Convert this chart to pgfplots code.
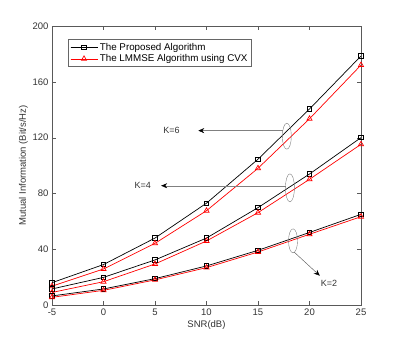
\documentclass[border=0pt]{standalone}
\usepackage{pgfplots}
\pgfplotsset{compat=1.18}
\usepackage{fontspec}
\setmainfont{Liberation Sans}
\usetikzlibrary{calc,arrows.meta}
\begin{document}
\begin{tikzpicture}
\begin{axis}[
	scale only axis,
	width=309pt, height=279pt,
	xmin=-5, xmax=25, ymin=0, ymax=200,
	xtick={-5,0,...,25}, ytick={0,40,...,200},
	tick align=inside,
	axis line style={gray!70!black},
	tick style={gray!70!black},
	ticklabel style={font=\fontsize{9.5}{11}\selectfont, text=black!80},
	label style={font=\fontsize{9.5}{11}\selectfont, text=black!80},
	/pgf/number format/assume math mode=true,
	xlabel={SNR(dB)}, ylabel={Mutual Information (Bit/s/Hz)},
	xlabel style={yshift=2pt},
	ylabel style={yshift=-2pt},
	legend style={at={(axis cs:-3.4,190.5)}, anchor=north west, font=\fontsize{9.8}{11}\selectfont,
		draw=black!60, inner sep=1.5pt, row sep=-1pt, cells={anchor=west}},
	legend image code/.code={\draw[#1] (0pt,0pt) -- (27pt,0pt); \draw[#1,mark repeat=2,mark phase=2] plot coordinates {(0pt,0pt) (13.5pt,0pt) (27pt,0pt)};},
]
% K=6
\addplot[black, line width=0.7pt, mark=square, mark size=2.2pt] coordinates {
	(-5,16) (0,29) (5,48) (10,73) (15,104.5) (20,140.5) (25,178.5)};
\addplot[red, line width=0.7pt, mark=triangle, mark size=3pt] coordinates {
	(-5,13.5) (0,25.8) (5,44.2) (10,67.6) (15,98) (20,133.5) (25,172)};
\legend{The Proposed Algorithm, The LMMSE Algorithm using CVX}
% K=4
\addplot[black, line width=0.7pt, mark=square, mark size=2.2pt, forget plot] coordinates {
	(-5,11.5) (0,19.8) (5,32.3) (10,48) (15,69.8) (20,93.9) (25,120)};
\addplot[red, line width=0.7pt, mark=triangle, mark size=3pt, forget plot] coordinates {
	(-5,9) (0,16.7) (5,29.4) (10,45.9) (15,66.2) (20,90.1) (25,115.2)};
% K=2
\addplot[black, line width=0.7pt, mark=square, mark size=2.2pt, forget plot] coordinates {
	(-5,6.5) (0,11.5) (5,18.9) (10,28) (15,39.2) (20,52) (25,65)};
\addplot[red, line width=0.7pt, mark=triangle, mark size=3pt, forget plot] coordinates {
	(-5,5.5) (0,10.5) (5,18) (10,26.8) (15,38) (20,50.7) (25,63.3)};
% annotations
\draw[gray] (axis cs:17.8,121) ellipse [x radius=4.5pt, y radius=13pt];
\draw[gray, -{Stealth[black,length=6pt,width=5pt]}] (axis cs:17.4,125) -- (axis cs:9.2,125);
\node[font=\fontsize{9}{10}\selectfont, text=black!80] at (axis cs:6.6,125) {K=6};
\draw[gray] (axis cs:18.1,84) ellipse [x radius=4.5pt, y radius=14pt];
\draw[gray, -{Stealth[black,length=6pt,width=5pt]}] (axis cs:17.7,85.5) -- (axis cs:5.6,85.5);
\node[font=\fontsize{9}{10}\selectfont, text=black!80] at (axis cs:3.8,85.5) {K=4};
\draw[gray] (axis cs:18.4,46) ellipse [x radius=4.5pt, y radius=12pt];
\draw[gray!60!black, -{Stealth[black,length=6pt,width=5pt]}] (axis cs:18.5,38) -- (axis cs:21,21);
\node[font=\fontsize{9}{10}\selectfont, text=black!80] at (axis cs:21.9,15.8) {K=2};
\end{axis}
\useasboundingbox ($(current axis.south west)+(-52pt,-38pt)$) rectangle ($(current axis.north east)+(38pt,26pt)$);
\end{tikzpicture}
\end{document}
